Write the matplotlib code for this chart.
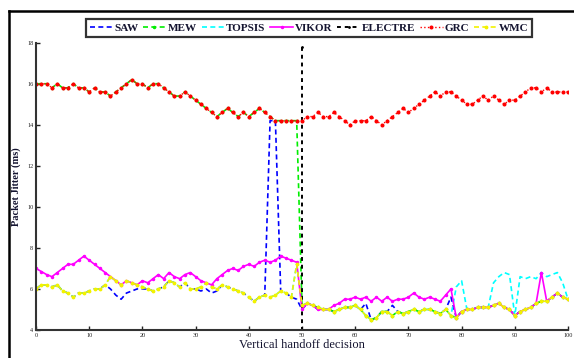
import numpy as np
import matplotlib
matplotlib.use("Agg")
import matplotlib.pyplot as plt
from matplotlib.lines import Line2D

plt.rcParams['font.family'] = ['Liberation Serif', 'DejaVu Serif']

x = np.arange(0, 101)

grc = [16.0,16.0,16.0,15.8,16.0,15.8,15.8,16.0,15.8,15.8,
       15.6,15.8,15.6,15.6,15.4,15.6,15.8,16.0,16.2,16.0,
       16.0,15.8,16.0,16.0,15.8,15.6,15.4,15.4,15.6,15.4,
       15.2,15.0,14.8,14.6,14.4,14.6,14.8,14.6,14.4,14.6,
       14.4,14.6,14.8,14.6,14.4,14.2,14.2,14.2,14.2,14.2,
       14.2,14.4,14.4,14.6,14.4,14.4,14.6,14.4,14.2,14.0,
       14.2,14.2,14.2,14.4,14.2,14.0,14.2,14.4,14.6,14.8,
       14.6,14.8,15.0,15.2,15.4,15.6,15.4,15.6,15.6,15.4,
       15.2,15.0,15.0,15.2,15.4,15.2,15.4,15.2,15.0,15.2,
       15.2,15.4,15.6,15.8,15.8,15.6,15.8,15.6,15.6,15.6,
       15.6]

# common low level after the handoff (x = 50..100)
low_after = [5.2,5.3,5.2,5.1,5.0,5.0,4.9,5.0,5.1,5.1,
             5.2,5.0,4.7,4.5,4.6,4.9,4.9,4.7,4.9,4.8,
             4.9,5.0,4.9,5.0,5.0,4.9,4.8,5.0,4.7,4.6,
             4.9,5.0,5.0,5.1,5.1,5.1,5.2,5.3,5.1,5.0,
             4.7,4.9,5.0,5.1,5.3,5.4,5.4,5.6,5.8,5.6,
             5.5]

wmc_before = [6.0,6.2,6.2,6.1,6.2,5.9,5.8,5.6,5.8,5.8,
              5.9,6.0,6.0,6.2,6.6,6.4,6.2,6.4,6.3,6.2,
              6.1,6.0,5.9,6.0,6.1,6.4,6.3,6.1,6.3,6.0,
              6.0,6.1,6.3,6.1,6.0,6.2,6.1,6.0,5.9,5.8,
              5.6,5.4,5.6,5.7,5.6,5.7,5.9,5.8,5.6,7.2]

vikor_before = [7.0,6.85,6.7,6.6,6.8,7.0,7.2,7.2,7.4,7.6,
                7.4,7.2,7.0,6.8,6.6,6.4,6.2,6.4,6.3,6.2,
                6.4,6.3,6.5,6.7,6.5,6.8,6.6,6.5,6.7,6.8,
                6.6,6.4,6.3,6.2,6.5,6.7,6.9,7.0,6.9,7.1,
                7.2,7.1,7.3,7.4,7.3,7.4,7.6,7.5,7.4,7.3]
vikor_mid = [5.0,5.3,5.2,5.0,5.0,5.0,5.2,5.3,5.5,5.5,
             5.6,5.5,5.6,5.4,5.6,5.4,5.6,5.4,5.5,5.5,
             5.6,5.8,5.6,5.5,5.6,5.5,5.4,5.7,6.0]   # x = 50..78

electre_x = [50, 50]
electre_y = [17.8, 4.0]

# build series
wmc = wmc_before + low_after
mew = grc[:50] + low_after
vikor = vikor_before + vikor_mid + low_after[29:]
vikor[95] = 6.8

saw = list(wmc)
saw_changes = {14: 6.0, 15: 5.7, 16: 5.5, 17: 5.8, 18: 5.9, 19: 6.0, 20: 6.0,
               31: 5.9, 32: 6.0, 33: 5.8, 34: 5.9, 44: 14.2, 45: 14.2, 49: 5.5,
               50: 5.0, 51: 5.3, 52: 5.2, 53: 5.0, 54: 5.0, 55: 5.0,
               62: 5.3, 67: 5.2, 78: 5.6}
for k, v in saw_changes.items():
    saw[k] = v

topsis = list(wmc)
topsis_changes = {79: 6.1, 80: 6.4, 86: 6.3, 87: 6.6, 88: 6.8, 89: 6.7, 90: 4.7,
                  91: 6.6, 92: 6.5, 93: 6.6, 94: 6.5, 95: 6.8, 96: 6.6, 97: 6.7,
                  98: 6.8, 99: 6.3}
for k, v in topsis_changes.items():
    topsis[k] = v

W, H = 574, 358
fig = plt.figure(figsize=(W/100, H/100), dpi=100)
ax = fig.add_axes([36/W, 28/H, 532/W, 287.3/H])

dash = (0, (3, 2))
ax.plot(x, saw, color='#0000ff', ls=dash, lw=1.2, label='SAW')
ax.plot(x, mew, color='#00ee00', ls=dash, lw=1.2, marker='.', ms=3, label='MEW')
ax.plot(x, topsis, color='#00ffff', ls=dash, lw=1.2, label='TOPSIS')
ax.plot(x, vikor, color='#ff00ff', ls='-', lw=1.2, marker='.', ms=3, label='VIKOR')
ax.plot(electre_x, electre_y, color='black', ls=(0, (2, 2)), lw=1.4, marker='.', ms=2, label='ELECTRE')
ax.plot(x, grc, color='#ff0000', ls=':', lw=1.0, marker='.', ms=3.8, label='GRC')
ax.plot(x, wmc, color='#f2f200', ls=dash, lw=1.2, marker='.', ms=3.5, label='WMC')

ax.set_xlim(0, 100)
ax.set_ylim(4, 18)
ax.set_xticks(np.arange(0, 101, 10))
ax.set_yticks(np.arange(4, 19, 2))
ax.tick_params(direction='in', length=3, width=1, labelsize=4.5, pad=2, colors='#222222')
for s in ['top', 'right']:
    ax.spines[s].set_visible(False)
for s in ['left', 'bottom']:
    ax.spines[s].set_linewidth(1.5)
    ax.spines[s].set_color('#333333')

ax.set_xlabel('Vertical handoff decision', fontsize=9, labelpad=1, color='#141430')
ax.set_ylabel('Packet Jitter (ms)', fontsize=7.5, labelpad=4, color='#141430', fontweight='bold')

leg = fig.legend(loc='center', bbox_to_anchor=(309/W, 1-28/H), ncol=7,
                 fontsize=8, handlelength=2.0, handletextpad=0.2, columnspacing=0.45,
                 borderpad=0.35, frameon=True, fancybox=False)
leg.get_frame().set_edgecolor('black')
leg.get_frame().set_linewidth(1.6)
for t in leg.get_texts():
    t.set_fontweight('bold')
    t.set_color('#141430')

# outer figure frame (left and top edges visible)
fig.add_artist(Line2D([9/W, 9/W], [0, 1-11/H], color='black', lw=1.8))
fig.add_artist(Line2D([9/W, 1], [1-11/H, 1-11/H], color='black', lw=1.8))

fig.savefig('out.png', dpi=100)
